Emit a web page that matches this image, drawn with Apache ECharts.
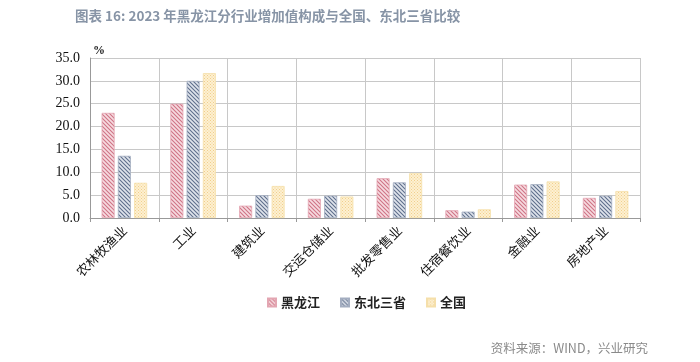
<!DOCTYPE html>
<html><head><meta charset="utf-8">
<script src="https://cdn.jsdelivr.net/npm/echarts@6/dist/echarts.min.js"></script>
<style>html,body{margin:0;padding:0;background:#fff}#c{width:700px;height:362px}</style>
</head><body><div id="c"></div>
<script>
const categories = ['农林牧渔业','工业','建筑业','交运仓储业','批发零售业','住宿餐饮业','金融业','房地产业'];
const heilongjiang = [23.0, 25.0, 2.7, 4.2, 8.7, 1.7, 7.3, 4.4];
const northeast = [13.6, 30.0, 5.0, 4.9, 7.8, 1.4, 7.4, 4.9];
const national = [7.7, 31.7, 7.0, 4.7, 9.8, 1.9, 8.0, 5.9];
const yTicks = [0, 5, 10, 15, 20, 25, 30, 35];

function hatch(bg, line) {
  const c = document.createElement('canvas');
  c.width = 4; c.height = 4;
  const g = c.getContext('2d');
  g.fillStyle = bg; g.fillRect(0,0,4,4);
  g.strokeStyle = line; g.lineWidth = 1.1;
  g.beginPath();
  g.moveTo(-1,-1); g.lineTo(5,5);
  g.moveTo(-1,3); g.lineTo(1,5);
  g.moveTo(3,-1); g.lineTo(5,1);
  g.stroke();
  return {image: c, repeat: 'repeat'};
}
function dots(bg, dot) {
  const c = document.createElement('canvas');
  c.width = 3; c.height = 3;
  const g = c.getContext('2d');
  g.fillStyle = bg; g.fillRect(0,0,3,3);
  g.fillStyle = dot; g.fillRect(0,0,1,1); g.fillRect(1.5,1.5,1,1);
  return {image: c, repeat: 'repeat'};
}
const redP = hatch('#f6dbe0', '#cf7385');
const blueP = hatch('#dfe4ec', '#5f6f8c');
const yelP = dots('#fdf0d2', '#f1cf8c');

const chart = echarts.init(document.getElementById('c'));
const mk = (name, data, color, border) => ({
  name, type: 'bar', data, barWidth: 13, barGap: '25%',
  itemStyle: {color, borderColor: border, borderWidth: 0.8}
});
chart.setOption({
  animation: false,
  title: {
    text: '图表 16: 2023 年黑龙江分行业增加值构成与全国、东北三省比较',
    left: 70, top: 4,
    textStyle: {fontFamily: 'Noto Sans CJK SC', fontSize: 13.5, fontWeight: 'bold', color: '#8794a6'}
  },
  graphic: [{
    type: 'text', right: 52, top: 342,
    style: {text: '资料来源：WIND，兴业研究', fontFamily: 'Noto Sans CJK SC', fontSize: 12.5, fill: '#8a8a8a'}
  }],
  legend: {
    left: 262, top: 291, itemWidth: 8, itemHeight: 8, itemGap: 20, icon: 'rect',
    textStyle: {fontFamily: 'Noto Sans CJK SC', fontSize: 13, fontWeight: 'bold', color: '#222'},
    data: ['黑龙江','东北三省','全国']
  },
  grid: {left: 90, right: 60, top: 58, bottom: 144},
  xAxis: {
    type: 'category', data: categories,
    axisLine: {lineStyle: {color: '#999'}},
    axisTick: {show: true, length: 4, lineStyle: {color: '#999'}},
    splitLine: {show: true, lineStyle: {color: '#c8c8c8'}},
    axisLabel: {rotate: 45, margin: 10, fontFamily: 'Noto Sans CJK SC', fontSize: 13, color: '#111'}
  },
  yAxis: {
    type: 'value', min: yTicks[0], max: yTicks[yTicks.length-1], interval: 5,
    name: '%', nameLocation: 'end', nameGap: 1,
    nameTextStyle: {fontFamily: 'Liberation Serif', fontSize: 12, fontWeight: 'bold', color: '#222', align: 'left', padding: [0,0,0,3]},
    axisLine: {show: true, lineStyle: {color: '#999'}},
    axisTick: {show: false},
    splitLine: {lineStyle: {color: '#c8c8c8'}},
    axisLabel: {formatter: v => v.toFixed(1), fontFamily: 'Liberation Serif', fontSize: 14, color: '#111', margin: 10}
  },
  series: [
    mk('黑龙江', heilongjiang, redP, '#e3a6b2'),
    mk('东北三省', northeast, blueP, '#a3adc0'),
    mk('全国', national, yelP, '#f5dfaa')
  ]
});
</script></body></html>
